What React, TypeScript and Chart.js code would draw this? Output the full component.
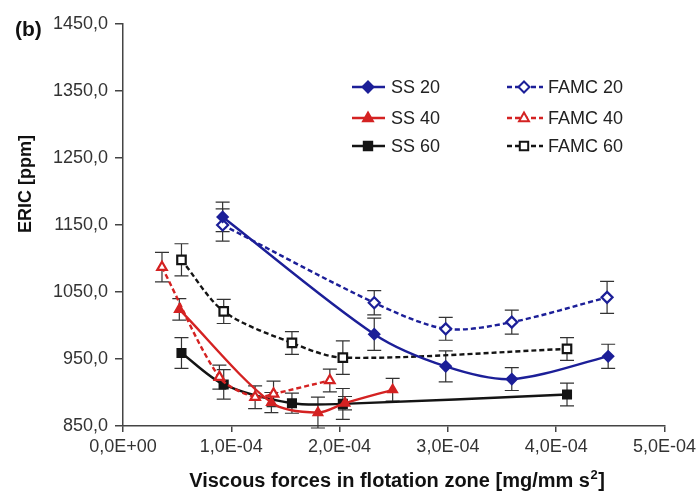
import React, { useEffect, useRef } from 'react';
import { Chart, registerables } from 'chart.js';
Chart.register(...registerables);

// ---- data ----
const ss20X = [0.92e-4, 2.32e-4, 2.98e-4, 3.59e-4, 4.48e-4];
const ss20Y = [1162, 987, 939, 920, 954];
const ss20Err = [22, 24, 23, 17, 18];

const famc20X = [0.92e-4, 2.32e-4, 2.98e-4, 3.59e-4, 4.47e-4];
const famc20Y = [1150, 1034, 995, 1005, 1042];
const famc20Err = [24, 18, 17, 18, 24];

const ss40X = [0.52e-4, 1.37e-4, 1.8e-4, 2.05e-4, 2.49e-4];
const ss40Y = [1024, 885, 870, 884, 904];
const ss40Err = [16, 15, 23, 10, 17];

const famc40X = [0.36e-4, 0.89e-4, 1.22e-4, 1.39e-4, 1.91e-4];
const famc40Y = [1087, 923, 893, 898, 918];
const famc40Err = [22, 18, 17, 19, 17];

const ss60X = [0.54e-4, 0.93e-4, 1.56e-4, 2.03e-4, 4.1e-4];
const ss60Y = [959, 912, 884, 883, 897];
const ss60Err = [23, 22, 15, 23, 17];

const famc60X = [0.54e-4, 0.93e-4, 1.56e-4, 2.03e-4, 4.1e-4];
const famc60Y = [1098, 1021, 974, 952, 965];
const famc60Err = [24, 18, 17, 25, 17];

const yMin = 850;
const yMax = 1450;
const yStep = 100;
const xMin = 0;
const xMax = 5e-4;
const xStep = 1e-4;

const seriesLabels = ['SS 20', 'FAMC 20', 'SS 40', 'FAMC 40', 'SS 60', 'FAMC 60'];
const xTitleMain = 'Viscous forces in flotation zone [mg/mm s';
const xTitleSup = '2';
const xTitleEnd = ']';
const yTitle = 'ERIC [ppm]';
const panelLabel = '(b)';

const BLUE = '#1c1f98';
const RED = '#d42222';
const BLACK = '#141414';
const FONT = "'Liberation Sans', Arial, sans-serif";

const fmtY = (v: number) => v.toFixed(1).replace('.', ',');
const fmtX = (v: number) => {
  const s = Number(v).toExponential(1);
  const [m, e] = s.split('e');
  const n = parseInt(e, 10);
  const sign = n < 0 ? '-' : '+';
  return m.replace('.', ',') + 'E' + sign + String(Math.abs(n)).padStart(2, '0');
};

const zip = (xs: number[], ys: number[]) => xs.map((x, i) => ({ x, y: ys[i] }));

const errs = [ss20Err, famc20Err, ss40Err, famc40Err, ss60Err, famc60Err];

type Style = { color: string; dashed: boolean; shape: 'rectRot' | 'triangle' | 'rect'; open: boolean };
const styles: Style[] = [
  { color: BLUE, dashed: false, shape: 'rectRot', open: false },
  { color: BLUE, dashed: true, shape: 'rectRot', open: true },
  { color: RED, dashed: false, shape: 'triangle', open: false },
  { color: RED, dashed: true, shape: 'triangle', open: true },
  { color: BLACK, dashed: false, shape: 'rect', open: false },
  { color: BLACK, dashed: true, shape: 'rect', open: true },
];

function drawMarker(ctx: CanvasRenderingContext2D, shape: string, x: number, y: number, r: number, color: string, open: boolean) {
  ctx.save();
  ctx.beginPath();
  if (shape === 'rectRot') {
    ctx.moveTo(x - r, y);
    ctx.lineTo(x, y - r);
    ctx.lineTo(x + r, y);
    ctx.lineTo(x, y + r);
    ctx.closePath();
  } else if (shape === 'triangle') {
    ctx.moveTo(x, y - r);
    ctx.lineTo(x + r * 0.9, y + r * 0.6);
    ctx.lineTo(x - r * 0.9, y + r * 0.6);
    ctx.closePath();
  } else {
    const s = r * 0.7;
    ctx.rect(x - s, y - s, 2 * s, 2 * s);
  }
  ctx.setLineDash([]);
  ctx.fillStyle = open ? '#ffffff' : color;
  ctx.fill();
  ctx.strokeStyle = color;
  ctx.lineWidth = 2;
  ctx.stroke();
  ctx.restore();
}

const errorBarPlugin = {
  id: 'errorBars',
  beforeDatasetsDraw(chart: any) {
    const ctx = chart.ctx as CanvasRenderingContext2D;
    const xs = chart.scales.x;
    const ys = chart.scales.y;
    ctx.save();
    ctx.strokeStyle = '#333333';
    ctx.lineWidth = 1.2;
    chart.data.datasets.forEach((ds: any, i: number) => {
      const e = errs[i];
      ds.data.forEach((p: any, j: number) => {
        const px = xs.getPixelForValue(p.x);
        const top = ys.getPixelForValue(p.y + e[j]);
        const bot = ys.getPixelForValue(p.y - e[j]);
        ctx.beginPath();
        ctx.moveTo(px, top);
        ctx.lineTo(px, bot);
        ctx.moveTo(px - 7, top);
        ctx.lineTo(px + 7, top);
        ctx.moveTo(px - 7, bot);
        ctx.lineTo(px + 7, bot);
        ctx.stroke();
      });
    });
    ctx.restore();
  },
};

const decorPlugin = {
  id: 'decor',
  afterDraw(chart: any) {
    const ctx = chart.ctx as CanvasRenderingContext2D;
    ctx.save();
    // legend
    const rows = [87, 118, 146];
    const cols = [
      { l0: 352, l1: 385, m: 368, t: 391 },
      { l0: 507, l1: 543, m: 524, t: 548 },
    ];
    for (let i = 0; i < 6; i++) {
      const st = styles[i];
      const c = cols[i % 2];
      const y = rows[Math.floor(i / 2)];
      ctx.beginPath();
      ctx.strokeStyle = st.color;
      ctx.lineWidth = 2.4;
      ctx.setLineDash(st.dashed ? [5, 3] : []);
      ctx.moveTo(c.l0, y);
      ctx.lineTo(c.l1, y);
      ctx.stroke();
      drawMarker(ctx, st.shape, c.m, y, st.shape === 'rect' ? 6 : 5.5, st.color, st.open);
      ctx.setLineDash([]);
      ctx.fillStyle = '#222222';
      ctx.font = `18px ${FONT}`;
      ctx.textAlign = 'left';
      ctx.textBaseline = 'middle';
      ctx.fillText(seriesLabels[i], c.t, y + 1);
    }
    // x title with superscript
    ctx.fillStyle = '#111111';
    ctx.textBaseline = 'alphabetic';
    ctx.textAlign = 'left';
    const mainFont = `bold 20px ${FONT}`;
    const supFont = `bold 13px ${FONT}`;
    ctx.font = mainFont;
    const w1 = ctx.measureText(xTitleMain).width;
    const w3 = ctx.measureText(xTitleEnd).width;
    ctx.font = supFont;
    const w2 = ctx.measureText(xTitleSup).width;
    const total = w1 + w2 + 1 + w3;
    let tx = 397 - total / 2;
    const baseY = 487;
    ctx.font = mainFont;
    ctx.fillText(xTitleMain, tx, baseY);
    tx += w1 + 0.5;
    ctx.font = supFont;
    ctx.fillText(xTitleSup, tx, baseY - 8);
    tx += w2 + 0.5;
    ctx.font = mainFont;
    ctx.fillText(xTitleEnd, tx, baseY);
    // y title
    ctx.font = `bold 18px ${FONT}`;
    ctx.textAlign = 'center';
    ctx.textBaseline = 'middle';
    ctx.save();
    ctx.translate(26, 184);
    ctx.rotate(-Math.PI / 2);
    ctx.fillText(yTitle, 0, 0);
    ctx.restore();
    ctx.font = `bold 21px ${FONT}`;
    ctx.textAlign = 'left';
    ctx.fillText(panelLabel, 15, 30);
    ctx.restore();
  },
};

export default function App() {
  const ref = useRef<HTMLCanvasElement | null>(null);
  useEffect(() => {
    document.body.style.margin = '0';
    const datasets = [
      zip(ss20X, ss20Y),
      zip(famc20X, famc20Y),
      zip(ss40X, ss40Y),
      zip(famc40X, famc40Y),
      zip(ss60X, ss60Y),
      zip(famc60X, famc60Y),
    ].map((data, i) => {
      const st = styles[i];
      return {
        label: seriesLabels[i],
        data,
        borderColor: st.color,
        backgroundColor: st.open ? '#ffffff' : st.color,
        pointBorderColor: st.color,
        pointBackgroundColor: st.open ? '#ffffff' : st.color,
        pointStyle: st.shape,
        pointRadius: st.shape === 'rect' ? 6 : 5.5,
        pointBorderWidth: st.open ? 2.2 : 1.6,
        borderWidth: 2.4,
        borderDash: st.dashed ? [5, 3] : [],
        tension: 0.3,
        showLine: true,
        fill: false,
      };
    });
    const chart = new Chart(ref.current as HTMLCanvasElement, {
      type: 'scatter',
      data: { datasets: datasets as any },
      options: {
        animation: false,
        responsive: true,
        maintainAspectRatio: false,
        layout: { padding: { top: 24, right: 34, left: 0, bottom: 0 } },
        plugins: { legend: { display: false }, tooltip: { enabled: false }, title: { display: false } },
        scales: {
          x: {
            type: 'linear',
            min: xMin,
            max: xMax,
            ticks: {
              stepSize: xStep,
              callback: (v: any) => fmtX(Number(v)),
              color: '#333333',
              font: { family: FONT, size: 18 },
              padding: 4,
              maxRotation: 0,
              autoSkip: false,
            },
            grid: { drawOnChartArea: false, drawTicks: true, tickLength: 6, color: '#444444', lineWidth: 1.5 },
            border: { color: '#444444', width: 1.5 },
            afterFit: (s: any) => { s.height = 67; },
          },
          y: {
            type: 'linear',
            min: yMin,
            max: yMax,
            ticks: {
              stepSize: yStep,
              callback: (v: any) => fmtY(Number(v)),
              color: '#333333',
              font: { family: FONT, size: 18 },
              padding: 7,
            },
            grid: { drawOnChartArea: false, drawTicks: true, tickLength: 8, color: '#444444', lineWidth: 1.5 },
            border: { color: '#444444', width: 1.5 },
            afterFit: (s: any) => { s.width = 123; },
          },
        },
      },
      plugins: [errorBarPlugin, decorPlugin],
    });
    return () => chart.destroy();
  }, []);
  return (
    <div style={{ width: 700, height: 493, position: 'relative', background: '#fff' }}>
      <canvas ref={ref} />
    </div>
  );
}
